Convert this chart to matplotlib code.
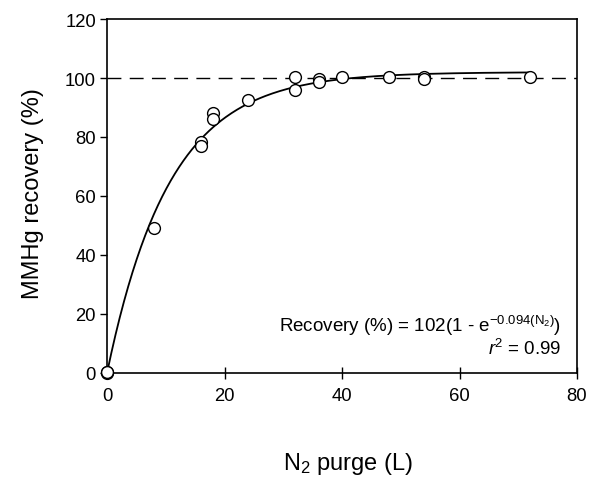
import matplotlib
matplotlib.use("Agg")
import matplotlib.pyplot as plt
import numpy as np

plt.rcParams["font.family"] = ["Liberation Sans", "DejaVu Sans"]
plt.rcParams["mathtext.fontset"] = "custom"
plt.rcParams["mathtext.rm"] = "Liberation Sans"
plt.rcParams["mathtext.it"] = "Liberation Sans:italic"

# measured points
n2_purge = [0, 0, 0, 8, 16, 16, 18, 18, 24, 32, 32, 36, 36, 40, 48, 54, 54, 72]
recovery = [0, 0.3, 0.5, 49.2, 78.2, 77.0, 88.0, 86.0, 92.5, 100.2, 96.0,
            99.7, 98.8, 100.2, 100.2, 100.2, 99.8, 100.2]

# fit: 102(1 - exp(-0.094 x))
fit_a = 102
fit_k = 0.094
fit_x = np.linspace(0, 72, 300)
fit_y = fit_a * (1 - np.exp(-fit_k * fit_x))

fig = plt.figure(figsize=(5.9, 4.81), dpi=100)
ax = fig.add_axes([0.1814, 0.2225, 0.7966, 0.7359])

ax.axhline(100, color="black", lw=1.0, ls=(0, (10, 6)), zorder=1)
ax.plot(fit_x, fit_y, color="black", lw=1.3, zorder=2)
ax.plot(n2_purge, recovery, "o", ms=8.5, mfc="white", mec="black", mew=1.0,
        clip_on=False, zorder=3)

ax.set_xlim(0, 80)
ax.set_ylim(0, 120)
ax.set_xticks([0, 20, 40, 60, 80])
ax.set_yticks([0, 20, 40, 60, 80, 100, 120])
ax.tick_params(axis="x", direction="inout", length=8, width=1, labelsize=13.3, pad=6)
ax.tick_params(axis="y", direction="out", length=5, width=1, labelsize=13.3, pad=3)
for s in ax.spines.values():
    s.set_linewidth(1.2)

ax.set_xlabel("N$_2$ purge (L)", fontsize=17, va="center")
ax.xaxis.set_label_coords(0.513, -0.255)
ax.set_ylabel("MMHg recovery (%)", fontsize=17, va="center")
ax.yaxis.set_label_coords(-0.157, 0.511)

ax.text(0.966, 0.119, r"Recovery (%) = 102(1 - e$^{-0.094(\mathrm{N_2})}$)",
        transform=ax.transAxes, ha="right", va="baseline", fontsize=13.5)
ax.text(0.966, 0.054, r"$\it{r}$$^2$ = 0.99",
        transform=ax.transAxes, ha="right", va="baseline", fontsize=13.5)

fig.savefig("out.png", dpi=100)
